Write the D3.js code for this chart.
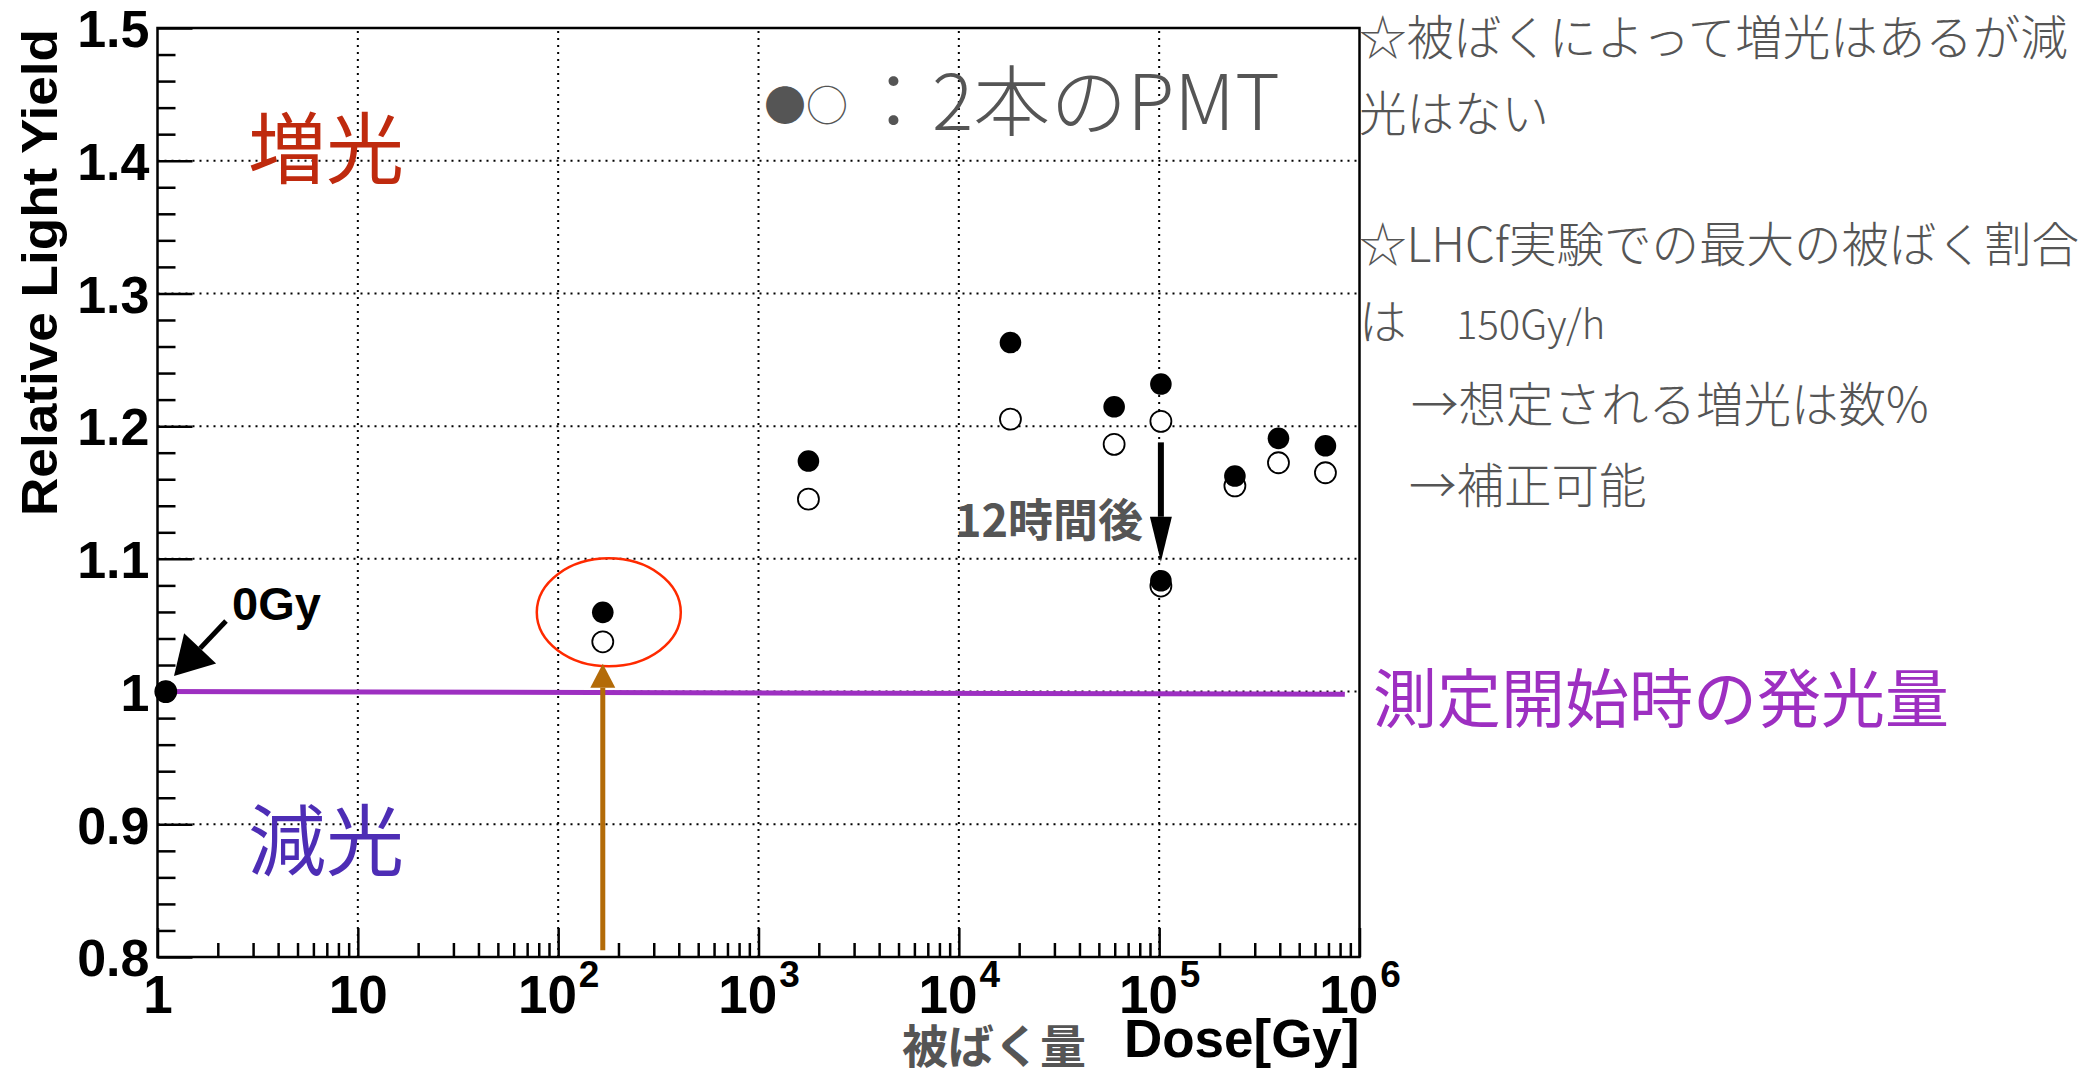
<!DOCTYPE html>
<meta charset="utf-8">
<style>
body { margin: 0; background: #fff; }
.grid line { stroke: #000; stroke-width: 2; stroke-dasharray: 2,5; }
.axis text { font-family: "Liberation Sans", Arial, sans-serif; font-weight: bold; fill: #000; }
.axis path { display: none; }
.axis line { stroke: #000; stroke-width: 2.5; }
.note { font-family: "Noto Sans CJK JP", sans-serif; fill: #555; }
</style>
<body>
<script src="https://cdn.jsdelivr.net/npm/d3@7"></script>
<script>
var width = 2085, height = 1078;

// dose [Gy] and relative light yield of the two PMTs
var dose    = [1.1, 167, 1775, 18100, 59600, 102000, 102000, 238800, 394000, 676000];
var pmtFill = [1.0, 1.0597, 1.1737, 1.263, 1.2146, 1.2317, 1.0835, 1.1624, 1.1908, 1.1852];
var pmtOpen = [1.0, 1.0375, 1.145, 1.2053, 1.1863, 1.2036, 1.0795, 1.155, 1.1724, 1.1649];

// reference level at start of measurement
var refDose = [1, 845000];
var refYield = [1.0, 0.998];

var yTicks = [0.8, 0.9, 1.0, 1.1, 1.2, 1.3, 1.4, 1.5];
var yTickLabels = ["0.8", "0.9", "1", "1.1", "1.2", "1.3", "1.4", "1.5"];
var xTicks = [1, 10, 100, 1000, 1e4, 1e5, 1e6];
var xTickLabels = [["1", ""], ["10", ""], ["10", "2"], ["10", "3"], ["10", "4"], ["10", "5"], ["10", "6"]];

var margin = {left: 157.5, right: 2085 - 1359.5, top: 28, bottom: 1078 - 957};

var svg = d3.select("body").append("svg")
  .attr("width", width)
  .attr("height", height);

var x = d3.scaleLog().domain([1, 1e6]).range([margin.left, width - margin.right]);
var y = d3.scaleLinear().domain([0.8, 1.5]).range([height - margin.bottom, margin.top]);

// grid
var grid = svg.append("g").attr("class", "grid");
grid.selectAll(".gx").data(xTicks.slice(1, -1)).enter().append("line")
  .attr("x1", function(d) { return x(d); }).attr("x2", function(d) { return x(d); })
  .attr("y1", y(0.8)).attr("y2", y(1.5));
grid.selectAll(".gy").data(yTicks.slice(1, -1)).enter().append("line")
  .attr("x1", x(1)).attr("x2", x(1e6))
  .attr("y1", function(d) { return y(d); }).attr("y2", function(d) { return y(d); });

// minor ticks
var yMinor = d3.range(0.8, 1.5001, 0.02).filter(function(v) { return Math.abs(v * 10 - Math.round(v * 10)) > 1e-6; });
var xMinor = [];
for (var k = 0; k < 6; k++) for (var m = 2; m < 10; m++) xMinor.push(m * Math.pow(10, k));

svg.append("g").attr("class", "axis")
  .attr("transform", "translate(" + x(1) + ",0)")
  .call(d3.axisLeft(y).tickValues(yMinor).tickSizeInner(-18).tickSizeOuter(0).tickFormat(""));
svg.append("g").attr("class", "axis")
  .attr("transform", "translate(0," + y(0.8) + ")")
  .call(d3.axisBottom(x).tickValues(xMinor).tickSizeInner(-14).tickSizeOuter(0).tickFormat(""));

// major axes
var yAxis = svg.append("g").attr("class", "axis")
  .attr("transform", "translate(" + x(1) + ",0)")
  .call(d3.axisLeft(y).tickValues(yTicks).tickSizeInner(-35).tickSizeOuter(0).tickPadding(8)
    .tickFormat(function(d, i) { return yTickLabels[i]; }));
yAxis.selectAll("text").style("font-size", "52px").attr("dy", "0.36em");

var xAxis = svg.append("g").attr("class", "axis")
  .attr("transform", "translate(0," + y(0.8) + ")")
  .call(d3.axisBottom(x).tickValues(xTicks).tickSizeInner(-29).tickSizeOuter(0).tickPadding(18)
    .tickFormat(""));
xAxis.selectAll("text").each(function(d, i) {
  var t = d3.select(this).style("font-size", "53px").attr("dy", "0.72em");
  t.append("tspan").text(xTickLabels[i][0]);
  if (xTickLabels[i][1]) {
    t.append("tspan").attr("dx", 2).attr("dy", -26).style("font-size", "37px").text(xTickLabels[i][1]);
  }
});

// reference line
svg.append("line")
  .attr("x1", x(refDose[0])).attr("x2", x(refDose[1]))
  .attr("y1", y(refYield[0])).attr("y2", y(refYield[1]))
  .attr("stroke", "#9d2fc1").attr("stroke-width", 5);

// points
var pts = dose.map(function(d, i) { return {dose: d, a: pmtFill[i], b: pmtOpen[i]}; });
svg.selectAll(".open").data(pts).enter().append("circle")
  .attr("cx", function(d) { return x(d.dose); })
  .attr("cy", function(d) { return y(d.b); })
  .attr("r", 10.5).attr("fill", "#fff").attr("stroke", "#000").attr("stroke-width", 1.8);
svg.selectAll(".fill").data(pts).enter().append("circle")
  .attr("cx", function(d) { return x(d.dose); })
  .attr("cy", function(d) { return y(d.a); })
  .attr("r", 10.8).attr("fill", "#000");

// frame
svg.append("rect")
  .attr("x", x(1)).attr("y", y(1.5))
  .attr("width", x(1e6) - x(1)).attr("height", y(0.8) - y(1.5))
  .attr("fill", "none").attr("stroke", "#000").attr("stroke-width", 2.5);

// axis titles
svg.append("text")
  .attr("transform", "translate(57," + (y(1.5) + 1) + ") rotate(-90)")
  .attr("text-anchor", "end")
  .attr("textLength", 487).attr("lengthAdjust", "spacingAndGlyphs")
  .style("font-family", "Liberation Sans, Arial, sans-serif").style("font-weight", "bold")
  .style("font-size", "50px")
  .text("Relative Light Yield");
svg.append("text")
  .attr("x", x(1e6)).attr("y", 1057)
  .attr("text-anchor", "end")
  .style("font-family", "Liberation Sans, Arial, sans-serif").style("font-weight", "bold")
  .style("font-size", "53px")
  .text("Dose[Gy]");
svg.append("text").attr("class", "note")
  .attr("x", 994).attr("y", 1063).attr("text-anchor", "middle")
  .style("font-weight", "bold").style("font-size", "46px")
  .text("被ばく量");

// arrows
function arrow(x1, y1, x2, y2, color, w, headLen, headW) {
  var ang = Math.atan2(y2 - y1, x2 - x1);
  var bx = x2 - headLen * Math.cos(ang), by = y2 - headLen * Math.sin(ang);
  var px = -Math.sin(ang) * headW / 2, py = Math.cos(ang) * headW / 2;
  svg.append("line").attr("x1", x1).attr("y1", y1).attr("x2", bx).attr("y2", by)
    .attr("stroke", color).attr("stroke-width", w);
  svg.append("path")
    .attr("d", "M" + x2 + "," + y2 + "L" + (bx + px) + "," + (by + py) + "L" + (bx - px) + "," + (by - py) + "Z")
    .attr("fill", color);
}

// highlighted point at ~170 Gy
svg.append("ellipse")
  .attr("cx", x(dose[1]) + 6).attr("cy", y(pmtFill[1]))
  .attr("rx", 72).attr("ry", 54)
  .attr("fill", "none").attr("stroke", "#ff2a00").attr("stroke-width", 2.5);
arrow(x(dose[1]), y(0.805), x(dose[1]), y(pmtOpen[1]) + 22, "#b36b08", 5, 24, 25);

// 0Gy
arrow(226, 621, 174, 676, "#000", 5, 38, 44);
svg.append("text")
  .attr("x", 232).attr("y", 620)
  .style("font-family", "Liberation Sans, Arial, sans-serif").style("font-weight", "bold")
  .style("font-size", "47px")
  .text("0Gy");

// 12 hours later
arrow(x(dose[5]), y(pmtOpen[5]) + 21, x(dose[5]), y(pmtFill[6]) - 19, "#000", 6, 45, 22);
svg.append("text").attr("class", "note")
  .attr("x", 1143).attr("y", 537).attr("text-anchor", "end")
  .style("font-weight", "bold").style("font-size", "45px")
  .text("12時間後");

// region labels
svg.append("text")
  .attr("x", 248).attr("y", 178)
  .style("font-family", "Noto Sans CJK JP, sans-serif").style("font-size", "78px")
  .attr("fill", "#bf2a0e")
  .text("増光");
svg.append("text")
  .attr("x", 248).attr("y", 870)
  .style("font-family", "Noto Sans CJK JP, sans-serif").style("font-size", "78px")
  .attr("fill", "#4d2db5")
  .text("減光");
svg.append("text")
  .attr("x", 1373).attr("y", 722)
  .style("font-family", "Noto Sans CJK JP, sans-serif").style("font-size", "64px")
  .attr("fill", "#9d2fc1")
  .text("測定開始時の発光量");

// legend
svg.append("text").attr("class", "note")
  .attr("x", 764).attr("y", 121)
  .style("font-size", "42px").style("font-weight", 300)
  .text("●○");
svg.append("text").attr("class", "note")
  .attr("x", 855).attr("y", 130)
  .style("font-size", "77px").style("font-weight", 300)
  .text("：2本のPMT");

// notes on the right
var notes = [
  {x: 1359, y: 55, s: 47.5, t: "☆被ばくによって増光はあるが減"},
  {x: 1359, y: 131, s: 47.5, t: "光はない"},
  {x: 1359, y: 262, s: 47.5, t: "☆LHCf実験での最大の被ばく割合"},
  {x: 1359, y: 339, s: 47.5, t: "は"},
  {x: 1456, y: 339, s: 40, t: "150Gy/h"},
  {x: 1411, y: 422, s: 47.5, t: "→想定される増光は数%"},
  {x: 1409, y: 503, s: 47.5, t: "→補正可能"}
];
svg.selectAll(".rnote").data(notes).enter().append("text").attr("class", "note")
  .attr("x", function(d) { return d.x; })
  .attr("y", function(d) { return d.y; })
  .style("font-size", function(d) { return d.s + "px"; })
  .style("font-weight", 300)
  .text(function(d) { return d.t; });
</script>
